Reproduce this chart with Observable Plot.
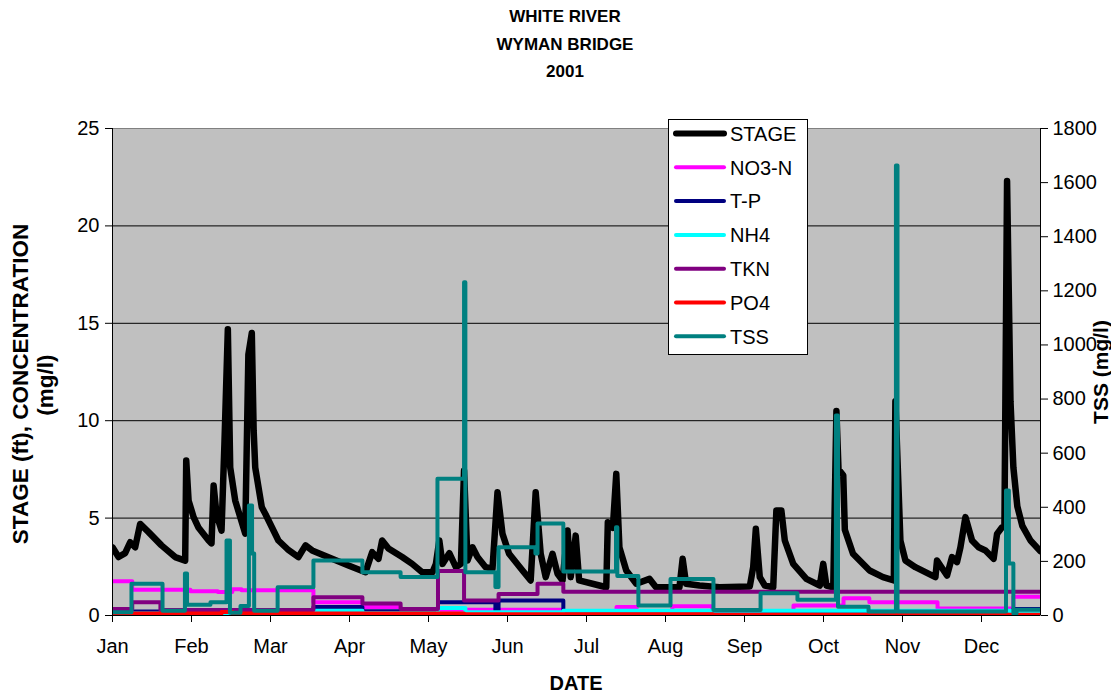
<!DOCTYPE html>
<html>
<head>
<meta charset="utf-8">
<script src="https://cdn.jsdelivr.net/npm/d3@7"></script>
<script src="https://cdn.jsdelivr.net/npm/@observablehq/plot@0.6"></script>
<style>
  html, body { margin: 0; padding: 0; background: #ffffff; }
  #wrap { position: relative; width: 1111px; height: 696px; overflow: hidden; font-family: "Liberation Sans", Arial, sans-serif; color: #000; }
  .title { position: absolute; left: 20px; top: 3px; width: 1090px; text-align: center; font-weight: bold; font-size: 17px; line-height: 27.5px; }
  .rot { position: absolute; white-space: nowrap; font-weight: bold; font-size: 20px; transform: translate(-50%, -50%) rotate(-90deg); }
  .hlab { position: absolute; white-space: nowrap; font-weight: bold; font-size: 20px; transform: translate(-50%, -50%); }
  #chart { position: absolute; left: 0; top: 100px; }
  #legend { position: absolute; left: 668px; top: 119px; }
</style>
</head>
<body>
<div id="wrap">
  <div class="title">WHITE RIVER<br>WYMAN BRIDGE<br>2001</div>
  <div id="chart"></div>
  <div class="rot" style="left:21px; top:384px; font-size:22.5px;">STAGE (ft), CONCENTRATION</div>
  <div class="rot" style="left:46px; top:385px; font-size:22.5px;">(mg/l)</div>
  <div class="rot" style="left:1101px; top:372px; font-size:21px;">TSS (mg/l)</div>
  <div class="hlab" style="left:576px; top:683px;">DATE</div>
  <div id="legend"></div>
</div>
<script>
// ---------- tick labels ----------
const months = ["Jan","Feb","Mar","Apr","May","Jun","Jul","Aug","Sep","Oct","Nov","Dec"];
const monthTickDays = [0,30,60,90,120,150,180,210,240,270,300,330];
const leftTicks = [0,5,10,15,20,25];
const tssTicks = [0,200,400,600,800,1000,1200,1400,1600,1800];
const xEnd = 352.4;

// ---------- STAGE (ft) ----------
const stageDay = [0,2.3,4.8,6.7,8.6,10.5,13.7,18.6,23.8,27.6,28.0,28.9,30.8,32.7,36.5,37.6,38.4,39.5,41.4,42.5,43.8,44.7,46.6,48.5,50.4,51.6,52.9,53.6,54.2,56.7,58.1,63.0,66.5,70.6,73.3,75.8,83.4,89.6,96.1,96.7,98.6,101.0,102.4,104.8,110.0,113.8,117.6,121.5,122.8,124.1,125.3,127.9,130.4,132.3,133.5,134.8,136.7,138.6,141.7,144.3,146.2,148.1,150.6,155.7,158.8,160.7,162.6,164.5,167.1,169.0,170.9,172.8,174.0,175.9,177.2,184.9,187.5,188.1,190.0,191.3,192.5,195.1,198.9,203.9,206.4,215.3,216.5,217.8,222.9,230.5,242.0,243.3,244.3,245.8,247.7,250.9,252.1,254.0,255.3,258.5,263.5,268.6,269.9,271.1,273.7,274.9,275.7,277.5,278.1,281.2,287.5,292.6,296.7,297.3,299.2,301.1,304.9,312.5,313.1,316.9,318.8,320.7,322.0,323.9,326.4,328.9,331.5,334.6,335.9,337.8,338.7,339.7,341.0,342.1,343.6,345.5,348.6,352.4];
const stageFt = [3.5,3.0,3.2,3.76,3.5,4.7,4.28,3.6,3.0,2.82,7.96,5.9,5.05,4.5,3.85,3.7,6.67,5.2,4.36,8.8,14.7,7.6,5.9,5.05,4.2,13.4,14.5,9.5,7.6,5.56,5.2,3.85,3.4,3.0,3.6,3.34,2.91,2.57,2.22,2.48,3.25,2.91,3.85,3.44,3.0,2.65,2.22,2.22,2.65,3.85,2.65,3.2,2.48,2.65,7.44,2.82,3.5,3.0,2.48,2.4,6.33,4.19,3.17,2.31,1.8,6.33,3.17,1.97,3.17,2.14,1.8,4.36,1.97,4.1,1.8,1.54,1.45,4.79,4.5,7.27,3.5,2.31,1.63,1.88,1.45,1.45,2.91,1.63,1.54,1.45,1.49,2.48,4.45,1.97,1.54,1.45,5.39,5.39,3.85,2.65,1.88,1.54,2.65,1.54,1.45,10.5,7.5,7.2,4.4,3.17,2.31,1.97,1.8,11.0,3.85,2.82,2.48,1.97,2.82,2.05,3.0,2.74,3.5,5.05,3.85,3.5,3.34,2.91,4.19,4.53,4.6,22.3,11.0,7.6,5.6,4.6,3.85,3.3];

// ---------- NO3-N (mg/l), stepwise ----------
const no3Day = [0,7.5,29.6,40,45.5,49,76.3,94.9,109.4,171.2,191.4,199.0,212.6,227.8,258.6,277.6,287.4,313.3,342.1,352.4];
const no3Val = [1.76,1.32,1.24,1.2,1.35,1.3,0.68,0.43,0.3,0.2,0.43,0.2,0.48,0.2,0.51,0.88,0.68,0.36,0.96,0.96];

// ---------- T-P (mg/l) ----------
const tpDay = [0,76.3,94.9,123.6,145.4,146.6,171.2,342.1,352.4];
const tpVal = [0.2,0.43,0.22,0.68,0.26,0.77,0.22,0.33,0.33];

// ---------- NH4 (mg/l) ----------
const nh4Day = [0,61.1,94.9,123.6,134.0,171.2,341.0,352.4];
const nh4Val = [0.1,0.24,0.12,0.38,0.17,0.25,0.12,0.12];

// ---------- TKN (mg/l) ----------
const tknDay = [0,7.5,18.2,76.3,94.9,109.4,123.6,133.5,146.6,161.4,171.2,352.4];
const tknVal = [0.34,0.68,0.28,0.94,0.62,0.34,2.29,0.77,1.11,1.63,1.22,1.22];

// ---------- PO4 (mg/l) ----------
const po4Day = [0,41.4,45.6,133.5,228.0,352.4];
const po4Val = [0.1,0.18,0.1,0.06,0.04,0.04];

// ---------- TSS (mg/l), right axis ----------
const tssDay = [0,7.2,19.0,27.5,28.3,37.2,43.3,44.6,48.6,51.8,53.0,53.8,62.7,76.3,94.9,109.4,123.4,133.5,134.0,145.4,146.6,160.6,161.4,171.2,191.2,191.7,199.7,211.9,228.2,246.1,260.1,274.7,275.5,287.1,297.5,298.1,339.3,340.4,342.1,343.3,352.4];
const tssVal = [12,117,18,155,40,49,277,10,35,407,229,18,104,203,160,142,505,1232,160,105,252,229,340,163,326,146,37,135,20,82,58,739,32,15,1663,15,462,192,8,21,21];

// ---------- series ----------
const seriesNames = ["STAGE","NO3-N","T-P","NH4","TKN","PO4","TSS"];
const seriesColors = ["#000000","#FF00FF","#000080","#00FFFF","#800080","#FF0000","#008080"];
const tssFactor = 25 / 1800;

const rows = (xs, ys) => xs.map((d, i) => ({day: d, v: ys[i]}));
const stepSeries = [
  [no3Day, no3Val], [tpDay, tpVal], [nh4Day, nh4Val], [tknDay, tknVal], [po4Day, po4Val]
];

const lineOpts = {x: "day", y: "v", strokeLinejoin: "round", strokeLinecap: "round", clip: true};

const plot = Plot.plot({
  width: 1111,
  height: 596,
  marginLeft: 112,
  marginRight: 71,
  marginTop: 28,
  marginBottom: 81,
  style: {fontFamily: "'Liberation Sans', Arial, sans-serif", fontSize: "20px", background: "transparent", color: "#000"},
  x: {domain: [0, xEnd]},
  y: {domain: [0, 25]},
  marks: [
    Plot.frame({fill: "#C0C0C0"}),
    Plot.ruleY([5,10,15,20], {stroke: "#000", strokeWidth: 1}),
    Plot.frame({stroke: "#808080"}),
    Plot.line(rows(stageDay, stageFt), {...lineOpts, stroke: seriesColors[0], strokeWidth: 6.5}),
    ...stepSeries.map(([xs, ys], i) => Plot.line(rows(xs, ys), {...lineOpts, stroke: seriesColors[i + 1], strokeWidth: 4, curve: "step-after"})),
    Plot.line(rows(tssDay, tssVal), {...lineOpts, y: d => d.v * tssFactor, stroke: seriesColors[6], strokeWidth: 4, curve: "step-after"}),
    Plot.ruleX([0, xEnd], {stroke: "#000", strokeWidth: 1}),
    Plot.ruleY([0], {stroke: "#000", strokeWidth: 1}),
    Plot.axisX(monthTickDays, {tickFormat: d => months[Math.round(d / 30)], tickSize: 7, tickPadding: 16, label: null, fontSize: 20}),
    Plot.axisY(leftTicks, {anchor: "left", tickSize: 7, tickPadding: 6, label: null, fontSize: 20}),
    Plot.axisY(tssTicks.map(v => v * tssFactor), {anchor: "right", tickFormat: d => String(Math.round(d / tssFactor)), tickSize: 7, tickPadding: 5, label: null, fontSize: 20})
  ]
});
document.getElementById("chart").appendChild(plot);

// ---------- legend ----------
const lw = 140, lh = 236;
const leg = d3.select("#legend").append("svg").attr("width", lw).attr("height", lh)
  .style("font-family", "'Liberation Sans', Arial, sans-serif");
leg.append("rect").attr("x", 0.5).attr("y", 0.5).attr("width", lw - 1).attr("height", lh - 1)
  .attr("fill", "#fff").attr("stroke", "#000");
seriesNames.forEach((name, i) => {
  const cy = 14.5 + 33.8 * i;
  leg.append("line").attr("x1", 8).attr("x2", 56).attr("y1", cy).attr("y2", cy)
    .attr("stroke", seriesColors[i]).attr("stroke-width", i === 0 ? 6 : 4).attr("stroke-linecap", "round");
  leg.append("text").attr("x", 62).attr("y", cy).attr("dy", "0.36em").attr("font-size", 20).text(name);
});
</script>
</body>
</html>
